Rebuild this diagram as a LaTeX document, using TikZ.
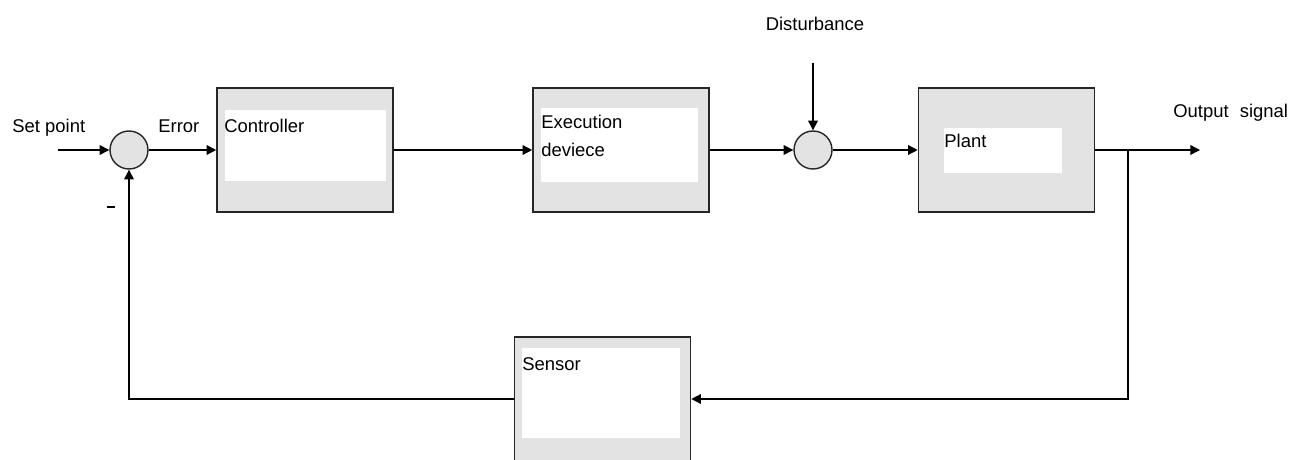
\documentclass[tikz,border=0pt]{standalone}
\usepackage{fontspec}
\setmainfont{Liberation Sans}
\usetikzlibrary{arrows.meta, positioning, calc}

\begin{document}
\begin{tikzpicture}[
        font=\fontsize{10.5}{12}\selectfont,
        >={Triangle[length=5.5pt,width=5.5pt]},
        block/.style={
            draw=black!85,
            line width=0.9pt,
            fill=black!11,
            minimum width=3.52cm,
            minimum height=2.48cm
        },
        inner/.style={
            draw=none,
            fill=white,
            inner sep=0pt
        },
        sum/.style={
            draw=black!85,
            line width=0.8pt,
            fill=black!11,
            circle,
            minimum size=0.76cm,
            inner sep=0pt
        },
        label/.style={anchor=base west, inner sep=0pt},
        line/.style={draw, line width=0.8pt, -},
        line_arrow/.style={draw, line width=0.8pt, ->}
    ]

    \useasboundingbox (0,0) rectangle (26.16,9.18);
    \clip (0,0) rectangle (26.16,9.18);

    % Forward path
    \node[sum] (sum1) at (2.58, 6.18) {};

    \node[block] (controller) at (6.10, 6.18) {};
    \node[inner, minimum width=3.22cm, minimum height=1.42cm] (controller_in) at (6.11, 6.27) {};
    \node[label] (controller_txt) at (4.48, 6.52) {Controller};

    \node[block] (execution) at (12.42, 6.18) {};
    \node[inner, minimum width=3.14cm, minimum height=1.48cm] (execution_in) at (12.39, 6.28) {};
    \node[label] (execution_txt) at (10.82, 6.60) {Execution};
    \node[label] (execution_txt2) at (10.82, 6.04) {deviece};

    \node[sum] (sum2) at (16.26, 6.18) {};

    \node[block] (plant) at (20.13, 6.18) {};
    \node[inner, minimum width=2.36cm, minimum height=0.90cm] (plant_in) at (20.06, 6.17) {};
    \node[label] (plant_txt) at (18.88, 6.22) {Plant};

    % Feedback path
    \node[block] (sensor) at (12.05, 1.20) {};
    \node[inner, minimum width=3.16cm, minimum height=1.80cm] (sensor_in) at (12.02, 1.32) {};
    \node[label] (sensor_txt) at (10.44, 1.78) {Sensor};

    % Free ends
    \coordinate (setpoint) at (1.16, 6.18);
    \coordinate (dist) at (16.26, 7.92);
    \coordinate (output) at (24.00, 6.18);
    \coordinate (branch) at (22.56, 6.18);

    % Labels
    \node[label] (setpoint_txt) at (0.24, 6.52) {Set point};
    \node[label] (error_txt) at (3.16, 6.52) {Error};
    \node[anchor=base, inner sep=0pt] (dist_txt) at (16.30, 8.56) {Disturbance};
    \node[label] (output_txt) at (23.46, 6.82) {Output\hspace{0.6em}signal};
    \node[inner sep=0pt] (minus) at (2.22, 5.04) {\rule{0.15cm}{0.055cm}};

    % Connectors
    \draw[line_arrow] (setpoint) -- (sum1.west);
    \draw[line_arrow] (sum1.east) -- (controller.west);
    \draw[line_arrow] (controller.east) -- (execution.west);
    \draw[line_arrow] (execution.east) -- (sum2.west);
    \draw[line_arrow] (dist) -- (sum2.north);
    \draw[line_arrow] (sum2.east) -- (plant.west);
    \draw[line_arrow] (plant.east) -- (output);
    \draw[line_arrow] (branch) |- (sensor.east);
    \draw[line_arrow] (sensor.west) -| (sum1.south);

\end{tikzpicture}
\end{document}
